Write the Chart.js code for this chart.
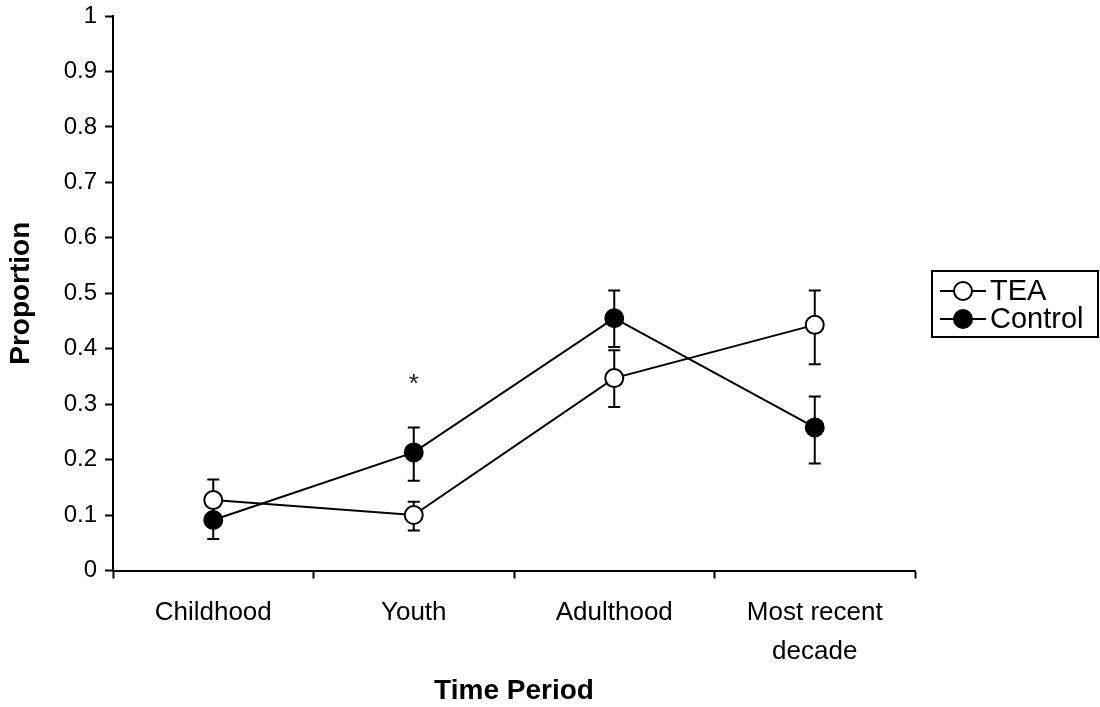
<!DOCTYPE html>
<html>
<head>
  <script src="https://cdn.jsdelivr.net/npm/chart.js@4"></script>
  <style>
    html, body { margin: 0; padding: 0; background: #fff; }
    #wrap { width: 1100px; height: 707px; }
  </style>
</head>
<body>
  <div id="wrap"><canvas id="myChart"></canvas></div>
  <script>
    const periods = ['Childhood', 'Youth', 'Adulthood', ['Most recent', 'decade']];
    const teaMean = [0.127, 0.100, 0.347, 0.443];
    const teaHigh = [0.164, 0.124, 0.397, 0.505];
    const teaLow = [0.090, 0.072, 0.295, 0.372];
    const controlMean = [0.091, 0.213, 0.455, 0.258];
    const controlHigh = [0.125, 0.258, 0.505, 0.314];
    const controlLow = [0.057, 0.162, 0.403, 0.193];
    const yTicks = [0, 0.1, 0.2, 0.3, 0.4, 0.5, 0.6, 0.7, 0.8, 0.9, 1];
    const starAt = { index: 1, value: 0.335 };

    const font = 'Liberation Sans, Arial, sans-serif';

    // error bars under the points
    const errorBars = {
      id: 'errorBars',
      beforeDatasetsDraw(chart) {
        const { ctx, scales: { x, y } } = chart;
        const sets = [[teaHigh, teaLow], [controlHigh, controlLow]];
        ctx.save();
        ctx.strokeStyle = '#000';
        ctx.lineWidth = 2;
        sets.forEach(([hi, lo]) => {
          hi.forEach((h, i) => {
            const px = x.getPixelForValue(i);
            const top = y.getPixelForValue(h);
            const bot = y.getPixelForValue(lo[i]);
            ctx.beginPath();
            ctx.moveTo(px, top); ctx.lineTo(px, bot);
            ctx.moveTo(px - 6, top); ctx.lineTo(px + 6, top);
            ctx.moveTo(px - 6, bot); ctx.lineTo(px + 6, bot);
            ctx.stroke();
          });
        });
        ctx.restore();
      },
    };

    // asterisk + boxed legend on the right
    const extras = {
      id: 'extras',
      afterDraw(chart) {
        const { ctx, chartArea, scales: { x, y } } = chart;
        ctx.save();
        ctx.fillStyle = '#222';
        ctx.font = '26px ' + font;
        ctx.textAlign = 'center';
        ctx.textBaseline = 'middle';
        ctx.fillText('*', x.getPixelForValue(starAt.index), y.getPixelForValue(starAt.value));

        const left = chartArea.right + 17;
        const top = 271;
        ctx.strokeStyle = '#000';
        ctx.lineWidth = 2;
        ctx.strokeRect(left, top, 166, 66);
        const entries = [['TEA', '#fff', 291], ['Control', '#000', 319]];
        ctx.textAlign = 'left';
        ctx.font = '29px ' + font;
        entries.forEach(([label, fill, cy]) => {
          ctx.beginPath();
          ctx.moveTo(left + 8, cy); ctx.lineTo(left + 54, cy);
          ctx.stroke();
          ctx.beginPath();
          ctx.arc(left + 31, cy, 9, 0, Math.PI * 2);
          ctx.fillStyle = fill;
          ctx.fill();
          ctx.stroke();
          ctx.fillStyle = '#000';
          ctx.fillText(label, left + 58, cy + 1);
        });
        ctx.restore();
      },
    };

    new Chart(document.getElementById('myChart'), {
      type: 'line',
      data: {
        labels: periods,
        datasets: [{
          label: 'TEA',
          data: teaMean,
          borderColor: '#000',
          borderWidth: 2,
          pointRadius: 9,
          pointBorderWidth: 2,
          pointBackgroundColor: '#fff',
          pointBorderColor: '#000',
          tension: 0,
        }, {
          label: 'Control',
          data: controlMean,
          borderColor: '#000',
          borderWidth: 2,
          pointRadius: 9,
          pointBorderWidth: 2,
          pointBackgroundColor: '#000',
          pointBorderColor: '#000',
          tension: 0,
        }],
      },
      options: {
        responsive: true,
        maintainAspectRatio: false,
        animation: false,
        layout: { padding: { top: 16, right: 185, bottom: 0, left: 0 } },
        plugins: {
          legend: { display: false },
          tooltip: { enabled: false },
        },
        scales: {
          x: {
            offset: true,
            grid: {
              offset: true,
              drawOnChartArea: false,
              drawTicks: true,
              tickLength: 8,
              tickWidth: 2,
              color: '#000',
            },
            border: { display: true, color: '#000', width: 2 },
            ticks: {
              color: '#000',
              padding: 15,
              maxRotation: 0,
              autoSkip: false,
              font: { family: font, size: 26, lineHeight: 1.5 },
            },
            title: {
              display: true,
              text: 'Time Period',
              color: '#000',
              padding: { top: 4, bottom: 0 },
              font: { family: font, size: 28, weight: 'bold', lineHeight: 1.1 },
            },
            afterFit(scale) { scale.height = 136.5; },
          },
          y: {
            min: 0,
            max: 1,
            afterBuildTicks(scale) { scale.ticks = yTicks.map(v => ({ value: v })); },
            grid: {
              drawOnChartArea: false,
              drawTicks: true,
              tickLength: 8,
              tickWidth: 2,
              color: '#000',
            },
            border: { display: true, color: '#000', width: 2 },
            ticks: {
              color: '#000',
              padding: 8,
              callback: v => String(Math.round(v * 10) / 10),
              font: { family: font, size: 24 },
            },
            title: {
              display: true,
              text: 'Proportion',
              color: '#000',
              padding: { top: 4, bottom: 4 },
              font: { family: font, size: 28, weight: 'bold' },
            },
            afterFit(scale) {
              scale.width = 113;
              scale.paddingTop = 0;
              scale.paddingBottom = 0;
            },
          },
        },
      },
      plugins: [errorBars, extras],
    });
  </script>
</body>
</html>
